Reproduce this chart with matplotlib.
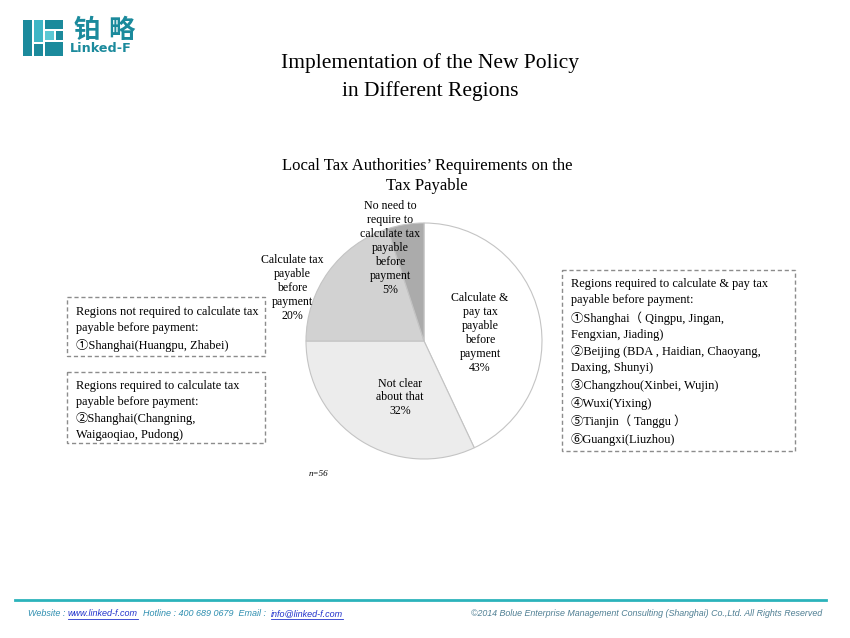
import numpy as np
import matplotlib.pyplot as plt
from matplotlib.patches import Rectangle

# ---- data ----
slice_labels = ["Calculate &\npay tax\npayable\nbefore\npayment",
                "Not clear\nabout that",
                "Calculate tax\npayable\nbefore\npayment",
                "No need to\nrequire to\ncalculate tax\npayable\nbefore\npayment"]
slice_pct = [43, 32, 20, 5]
slice_colors = ["#ffffff", "#ececec", "#d2d2d2", "#ababab"]
label_dist = [0.48, 0.52, 1.20, 0.84]
label_nudge = [-4.6, 9.4, 14.0, 11.0]   # degrees off the wedge middle

box_left_top = ["Regions not required to calculate tax",
                "payable before payment:",
                "①Shanghai(Huangpu, Zhabei)"]
box_left_bottom = ["Regions required to calculate tax",
                   "payable before payment:",
                   "②Shanghai(Changning,",
                   "Waigaoqiao, Pudong)"]
box_right = ["Regions required to calculate & pay tax",
             "payable before payment:",
             "①Shanghai（ Qingpu, Jingan,",
             "Fengxian, Jiading)",
             "②Beijing (BDA , Haidian, Chaoyang,",
             "Daxing, Shunyi)",
             "③Changzhou(Xinbei, Wujin)",
             "④Wuxi(Yixing)",
             "⑤Tianjin（ Tanggu ）",
             "⑥Guangxi(Liuzhou)"]

SERIF = ["Liberation Serif", "Noto Sans CJK SC", "DejaVu Serif"]
TEAL = "#1b8a9c"

fig = plt.figure(figsize=(8.5, 6.38), dpi=100)

# overlay axes in pixel coordinates
ov = fig.add_axes([0, 0, 1, 1])
ov.set_xlim(0, 850)
ov.set_ylim(638, 0)
ov.axis("off")

# ---- logo ----
logo_blocks = [(23, 20, 9, 36, TEAL), (34, 20, 9, 22, "#3fb6c6"), (34, 44, 9, 12, TEAL),
               (45, 20, 18, 9, TEAL), (45, 31, 9, 9, "#5cc8d4"), (56, 31, 7, 9, TEAL),
               (45, 42, 18, 14, TEAL)]
for x, y, w, h, c in logo_blocks:
    ov.add_patch(Rectangle((x, y), w, h, color=c, lw=0))
for ch, cx in [("铂", 87), ("略", 121)]:
    ov.text(cx, 30, ch, fontsize=19, color=TEAL, fontweight="bold",
            family=["Noto Sans CJK SC"], va="center", ha="center")
ov.text(70, 49, "Linked-F", fontsize=9.2, color=TEAL, fontweight="bold",
        family=["DejaVu Sans"], va="center", ha="left")

# ---- titles ----
ov.text(430, 77, "Implementation of the New Policy\nin Different Regions",
        fontsize=15.5, family=SERIF, ha="center", va="center", linespacing=1.5)
ov.text(427, 176, "Local Tax Authorities’ Requirements on the\nTax Payable",
        fontsize=12, family=SERIF, ha="center", va="center", linespacing=1.3)

# ---- pie ----
ax = fig.add_axes([(424 - 118) / 850, (638 - 341 - 118) / 638, 236 / 850, 236 / 638])
wedges, _ = ax.pie(slice_pct, colors=slice_colors, startangle=90, counterclock=False,
                   radius=1.0, wedgeprops=dict(edgecolor="#c4c4c4", linewidth=0.8))
ax.set_xlim(-1, 1)
ax.set_ylim(-1, 1)
ax.set_aspect("equal")
ax.axis("off")
for w, lab, p, d, nud in zip(wedges, slice_labels, slice_pct, label_dist, label_nudge):
    ang = np.deg2rad((w.theta1 + w.theta2) / 2 + nud)
    ax.text(d * np.cos(ang), d * np.sin(ang), f"{lab}\n{p}%", ha="center", va="center",
            fontsize=8.6, family=SERIF, linespacing=1.22, clip_on=False)

ov.text(318, 474, "n=56", fontsize=6.5, style="italic", family=SERIF, ha="center", va="center")

# ---- dashed boxes ----
def dashed_box(x0, y0, x1, y1, lines, tx, ty, ls):
    ov.add_patch(Rectangle((x0, y0), x1 - x0, y1 - y0, fill=False, edgecolor="#8c8c8c",
                           lw=1.0, linestyle=(0, (3, 2))))
    ov.text(tx, ty, "\n".join(lines), fontsize=8.9, family=SERIF, ha="left", va="top",
            linespacing=ls)

dashed_box(67, 297, 265, 356, box_left_top, 76, 306, 1.45)
dashed_box(67, 372, 265, 443, box_left_bottom, 76, 380, 1.42)
dashed_box(562, 270, 795, 451, box_right, 571, 278, 1.46)

# ---- footer ----
ov.plot([15, 826], [600, 600], color="#2bb3bb", lw=2)
FOOT = ["Liberation Sans Narrow", "Liberation Sans"]
fig.canvas.draw()
r = fig.canvas.get_renderer()
x = 28
pieces = [("Website : ", "#2f8fb0", False), ("www.linked-f.com", "#2233cc", True),
          ("  Hotline : 400 689 0679  Email :  ", "#2f8fb0", False),
          ("info@linked-f.com", "#2233cc", True)]
inv = ov.transData.inverted()
for s, c, ul in pieces:
    t = ov.text(x, 614, s, fontsize=6.5, style="italic", family=FOOT, color=c,
                ha="left", va="center")
    bb = t.get_window_extent(renderer=r)
    (a0, _), (a1, _) = inv.transform([[bb.x0, bb.y0], [bb.x1, bb.y1]])
    if ul:
        ov.plot([a0, a1], [619, 619], color=c, lw=0.6)
    x = a1
ov.text(822, 614, "©2014 Bolue Enterprise Management Consulting (Shanghai) Co.,Ltd. All Rights Reserved",
        fontsize=6.4, style="italic", family=FOOT, color="#4f7f93", ha="right", va="center")

fig.savefig("out.png", dpi=100, facecolor="white")
